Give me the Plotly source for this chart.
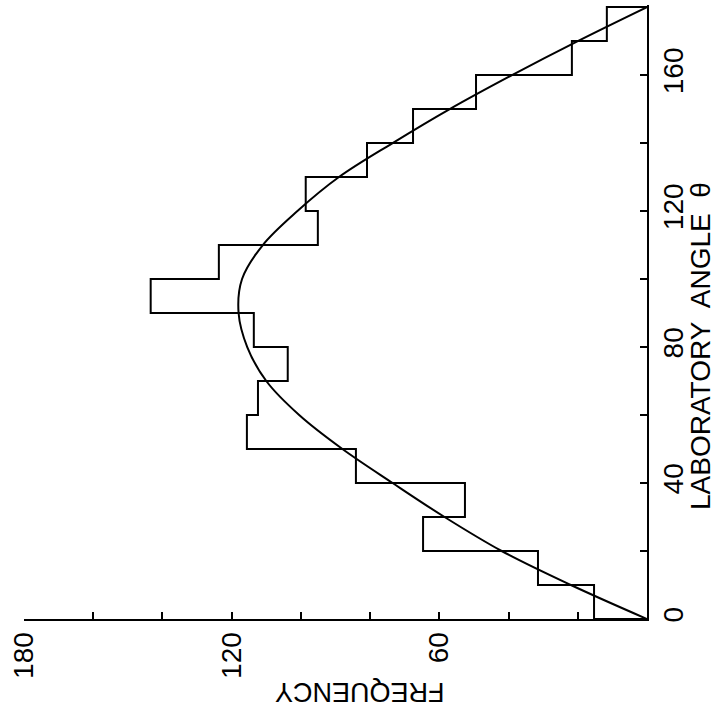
import plotly.graph_objects as go

# Histogram: laboratory angle bins (degrees) and frequency per bin
bin_edges = [0, 10, 20, 30, 40, 50, 60, 70, 80, 90, 100, 110, 120, 130, 140, 150, 160, 170, 180]
bin_counts = [15.3, 31.5, 64.7, 52.6, 84.1, 115.6, 112.4, 103.8, 113.6, 143.4,
              123.7, 95.1, 98.6, 80.9, 67.6, 49.4, 21.7, 11.6]

# Smooth theoretical curve
curve_angle = [0, 10, 20, 30, 40, 50, 60, 70, 80, 90, 100, 110, 120, 130, 140, 150, 160, 170, 180]
curve_freq = [0, 22, 42, 58.5, 73.5, 88, 100.5, 110, 115.5, 118, 117, 111, 101, 89, 73.5, 57, 39, 20, 0]

# Tick labels
freq_ticks = [0, 20, 40, 60, 80, 100, 120, 140, 160, 180]
freq_ticktext = ["", "", "", "60", "", "", "120", "", "", "180"]
angle_ticks = [0, 20, 40, 60, 80, 100, 120, 140, 160, 180]
angle_ticktext = ["0", "", "40", "", "80", "", "120", "", "160", ""]

# Step outline of histogram (frequency horizontal, angle vertical)
step_x = [0] + bin_counts + [0]
step_y = [bin_edges[0]] + bin_edges[:-1] + [bin_edges[-1]]

fig = go.Figure()
fig.add_trace(go.Scatter(x=step_x, y=step_y, mode="lines", line_shape="vh",
                         line=dict(color="black", width=2), hoverinfo="skip"))
fig.add_trace(go.Scatter(x=curve_freq, y=curve_angle, mode="lines", line_shape="spline",
                         line=dict(color="black", width=2), hoverinfo="skip"))

FONT = "Liberation Sans"
W, H = 716, 714
L, R, T, B = 24, 69, 5, 95

fig.update_layout(
    width=W, height=H,
    margin=dict(l=L, r=R, t=T, b=B),
    paper_bgcolor="white", plot_bgcolor="white",
    showlegend=False,
    font=dict(family=FONT, color="black", size=28),
    xaxis=dict(range=[180, 0], tickvals=freq_ticks, ticktext=freq_ticktext,
               ticks="inside", ticklen=7, tickwidth=2, tickcolor="black",
               tickangle=-90, showline=True, linecolor="black", linewidth=2,
               showgrid=False, zeroline=False, tickfont=dict(size=28, family=FONT)),
    yaxis=dict(range=[0, 180.6], tickvals=angle_ticks, ticktext=angle_ticktext,
               side="right", ticks="inside", ticklen=7, tickwidth=2, tickcolor="black",
               tickangle=-90, showline=True, linecolor="black", linewidth=2,
               showgrid=False, zeroline=False, tickfont=dict(size=28, family=FONT)),
    annotations=[
        dict(text="FREQUENCY", xref="paper", yref="paper", x=0.539, y=-0.119,
             showarrow=False, textangle=180, font=dict(size=27, family=FONT),
             xanchor="center", yanchor="middle"),
        dict(text="LABORATORY  ANGLE  θ", xref="paper", yref="paper", x=1.087, y=0.445,
             showarrow=False, textangle=-90, font=dict(size=28, family=FONT),
             xanchor="center", yanchor="middle"),
    ],
)

fig.write_html("out.html", config={"displayModeBar": False},
               post_script="document.body.style.margin='0px';")
